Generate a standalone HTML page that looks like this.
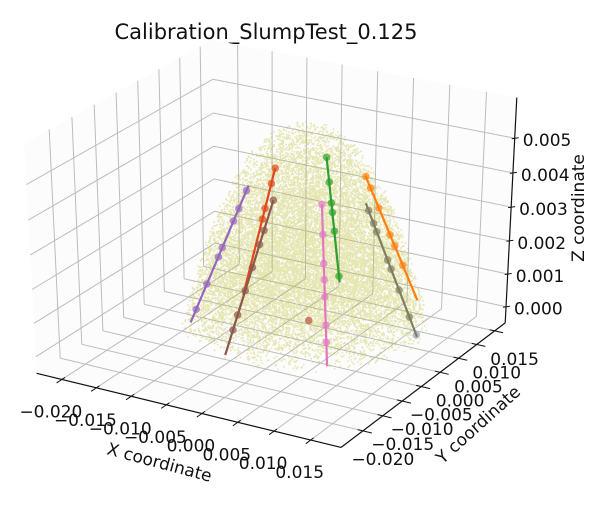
<!DOCTYPE html>
<html><head><meta charset="utf-8"><style>
html,body{margin:0;padding:0;background:#fff;}
svg{display:block;font-family:"DejaVu Sans","Liberation Sans",sans-serif;}
</style></head><body>
<svg id="chart" width="614" height="507" viewBox="0 0 614 507" xmlns="http://www.w3.org/2000/svg">
<rect width="614" height="507" fill="#fff"/>
<text x="266" y="39" font-size="21" text-anchor="middle" fill="#111">Calibration_SlumpTest_0.125</text>
<g id="panes"></g>
<g id="grid"></g>
<g id="axes"></g>
<g id="cloud"></g>
<g id="series"></g>
<text x="0" y="0" font-size="17" text-anchor="middle" transform="translate(158,468) rotate(15)" fill="#111">X coordinate</text>
<text x="0" y="0" font-size="17" text-anchor="middle" transform="translate(482,429) rotate(-42)" fill="#111">Y coordinate</text>
<text x="0" y="0" font-size="17" text-anchor="middle" transform="translate(584,208) rotate(-90)" fill="#111">Z coordinate</text>
</svg>
<script>
// ---- axis limits & ticks ----
const xLim = [-0.0237, 0.0191];
const yLim = [-0.0254, 0.018];
const zLim = [-0.0005, 0.00615];
const xTicks = [-0.020, -0.015, -0.010, -0.005, 0.000, 0.005, 0.010, 0.015];
const yTicks = [-0.020, -0.015, -0.010, -0.005, 0.000, 0.005, 0.010, 0.015];
const zTicks = [0.000, 0.001, 0.002, 0.003, 0.004, 0.005];
const xTickLabels = ["\u22120.020","\u22120.015","\u22120.010","\u22120.005","0.000","0.005","0.010","0.015"];
const yTickLabels = ["\u22120.020","\u22120.015","\u22120.010","\u22120.005","0.000","0.005","0.010","0.015"];
const zTickLabels = ["0.000","0.001","0.002","0.003","0.004","0.005"];

// ---- series data (x, y, z of markers) ----
const seriesNames = ["purple","red","brown","pink","green","orange","gray"];
const seriesColors = ["#9467bd","#e0481c","#8c564b","#e377c2","#2ca02c","#ff7f0e","#7f7f5f"];
const purpleX = [-0.00705,-0.00781,-0.00835,-0.00950,-0.00990,-0.01110,-0.01222];
const purpleY = [-0.00230,-0.00286,-0.00325,-0.00409,-0.00439,-0.00526,-0.00608];
const purpleZ = [0.00385,0.00334,0.00298,0.00221,0.00194,0.00114,0.00039];
const redX = [-0.00398,-0.00486,-0.00631,-0.00694];
const redY = [-0.00058,0.00002,0.00100,0.00142];
const redZ = [0.0045,0.00398,0.00312,0.00275];
const brownX = [-0.00462,-0.00447,-0.00441,-0.00429,-0.00418,-0.00407,-0.00399];
const brownY = [0.0001,-0.00249,-0.00370,-0.00568,-0.00766,-0.00973,-0.01104];
const brownZ = [0.0035,0.00282,0.0025,0.00198,0.00146,0.00091,0.00057];
const pinkX = [0.0012,0.00257,0.00390,0.00464,0.00542,0.00671,0.00749];
const pinkY = [0.00188,-0.00030,-0.00241,-0.00359,-0.00482,-0.00686,-0.00810];
const pinkZ = [0.0035,0.00285,0.00222,0.00187,0.0015,0.00089,0.00052];
const greenX = [0.00133,0.00129,0.00125,0.00124,0.00121,0.00113];
const greenY = [0.0027,0.0035,0.00419,0.0045,0.00513,0.00665];
const greenZ = [0.0048,0.00403,0.00337,0.00307,0.00247,0.0010];
const orangeX = [0.00501,0.00545,0.00622,0.00727,0.00771,0.00848];
const orangeY = [0.00598,0.00647,0.00731,0.00846,0.00895,0.00979];
const orangeZ = [0.00417,0.00382,0.00321,0.00238,0.00203,0.00142];
const grayX = [0.00608,0.00687,0.00737,0.00910,0.00966,0.01096,0.01263,0.01374];
const grayY = [0.00489,0.00477,0.00469,0.00444,0.00435,0.00416,0.00391,0.00375];
const grayZ = [0.00331,0.00298,0.00276,0.00203,0.00179,0.00124,0.00053,0.00005];
// fitted line endpoints [top, bottom]
const fitStartX = [-0.00683,-0.00398,-0.00462,0.0012,0.00133,0.00497,0.00564];
const fitStartY = [-0.00214,-0.00058,0.0001,0.00188,0.0027,0.00594,0.00495];
const fitStartZ = [0.0040,0.0045,0.0035,0.0035,0.0048,0.0042,0.0035];
const fitEndX = [-0.0128,-0.0116,-0.00387,0.00859,0.00112,0.00989,0.01386];
const fitEndY = [-0.0065,0.00458,-0.01319,-0.00985,0.00686,0.01134,0.00373];
const fitEndZ = [0,0,0,0,0.0008,0.0003,0];
const strayX = [-0.0003];
const strayY = [0.0015];
const strayZ = [0];
// particle cloud shape: base radius, height
const cloudBaseRadius = [0.0155];
const cloudHeight = [0.0058];

// ---- projection (matplotlib-like perspective) ----
const NS = "http://www.w3.org/2000/svg";
function model(x,y,z){
  const dx=(x-xLim[0])/(xLim[1]-xLim[0])-0.5, dy=(y-yLim[0])/(yLim[1]-yLim[0])-0.5, dz=(z-zLim[0])/(zLim[1]-zLim[0])-0.5;
  const u=0.866*dx+0.5*dy, v=-0.25*dx+0.433*dy+0.866*dz, d=0.433*dx-0.75*dy+0.5*dz;
  const s=10/(10-d);
  return [u*s, v*s];
}
const calib = [
  [[-0.020,yLim[0],zLim[0]],[63,380]],[[0.015,yLim[0],zLim[0]],[312,440]],
  [[xLim[1],-0.020,zLim[0]],[362,432]],[[xLim[1],0.015,zLim[0]],[492,334]],
  [[xLim[1],yLim[1],0],[509,302]],[[xLim[1],yLim[1],0.005],[514,137]],
  [[xLim[0],yLim[1],0.005],[213,79]],[[xLim[0],-0.020,zLim[0]],[60,357]],[[xLim[0],-0.020,zLim[1]],[48,132]]
];
function regress(a,b){let n=a.length,ma=0,mb=0;for(let i=0;i<n;i++){ma+=a[i];mb+=b[i];}ma/=n;mb/=n;let c=0,v=0;for(let i=0;i<n;i++){c+=(a[i]-ma)*(b[i]-mb);v+=(a[i]-ma)**2;}const k=c/v;return [k,mb-k*ma];}
const mxs=calib.map(c=>model(...c[0])[0]), mys=calib.map(c=>model(...c[0])[1]);
const FX=regress(mxs,calib.map(c=>c[1][0])), FY=regress(mys,calib.map(c=>c[1][1]));
function proj(x,y,z){const m=model(x,y,z);return [FX[1]+FX[0]*m[0], FY[1]+FY[0]*m[1]];}

function el(tag,attrs,parent){const e=document.createElementNS(NS,tag);for(const k in attrs)e.setAttribute(k,attrs[k]);parent.appendChild(e);return e;}
function line3(p,q,parent,stroke,w){const a=proj(...p),b=proj(...q);return el("line",{x1:a[0].toFixed(1),y1:a[1].toFixed(1),x2:b[0].toFixed(1),y2:b[1].toFixed(1),stroke:stroke,"stroke-width":w},parent);}
function poly3(pts,parent,fill){return el("polygon",{points:pts.map(p=>proj(...p).map(v=>v.toFixed(1)).join(",")).join(" "),fill:fill,stroke:"none"},parent);}

const [x0,x1]=xLim,[y0,y1]=yLim,[z0,z1]=zLim;
const panes=document.getElementById("panes");
let pe;
pe=poly3([[x0,y0,z0],[x0,y1,z0],[x0,y1,z1],[x0,y0,z1]],panes,"#fcfcfc");


pe=poly3([[x0,y1,z0],[x1,y1,z0],[x1,y1,z1],[x0,y1,z1]],panes,"#fcfcfc");


pe=poly3([[x0,y0,z0],[x1,y0,z0],[x1,y1,z0],[x0,y1,z0]],panes,"#fcfcfc");



const grid=document.getElementById("grid");
const gc="#bcbcbc", gw=1;
let g;
for(const t of xTicks){
  g=line3([t,y0,z0],[t,y1,z0],grid,gc,gw);
  
  
  g=line3([t,y1,z0],[t,y1,z1],grid,gc,gw);
  
  
}
for(const t of yTicks){
  g=line3([x0,t,z0],[x1,t,z0],grid,gc,gw);
  
  
  g=line3([x0,t,z0],[x0,t,z1],grid,gc,gw);
  
  
}
for(const t of zTicks){
  g=line3([x0,y0,t],[x0,y1,t],grid,gc,gw);
  
  
  g=line3([x0,y1,t],[x1,y1,t],grid,gc,gw);
  
  
}

const axes=document.getElementById("axes");
let a;
a=line3([x0,y0,z0],[x1,y0,z0],axes,"#111",1.2);


a=line3([x1,y0,z0],[x1,y1,z0],axes,"#111",1.2);


a=line3([x1,y1,z0],[x1,y1,z1],axes,"#111",1.2);



xTicks.forEach((t,i)=>{
  const tk=line3([t,y0+0.0007,z0],[t,y0-0.0012,z0],axes,"#111",1);
  
  
  const p=proj(t,y0,z0);
  const tx=el("text",{x:(p[0]-11).toFixed(1),y:(p[1]+38).toFixed(1),"font-size":17,"text-anchor":"middle",fill:"#111"},axes);
  tx.textContent=xTickLabels[i];
  
  
});
yTicks.forEach((t,i)=>{
  const tk=line3([x1-0.0007,t,z0],[x1+0.0012,t,z0],axes,"#111",1);
  
  
  const p=proj(x1,t,z0);
  const tx=el("text",{x:(p[0]+20).toFixed(1),y:(p[1]+34).toFixed(1),"font-size":17,"text-anchor":"middle",fill:"#111"},axes);
  tx.textContent=yTickLabels[i];
  
  
});
zTicks.forEach((t,i)=>{
  const p=proj(x1,y1,t);
  const tk=el("line",{x1:(p[0]-3).toFixed(1),y1:(p[1]+0.5).toFixed(1),x2:(p[0]+4).toFixed(1),y2:(p[1]-0.5).toFixed(1),stroke:"#111","stroke-width":1},axes);
  
  
  const tx=el("text",{x:(p[0]+8).toFixed(1),y:(p[1]+8).toFixed(1),"font-size":17,"text-anchor":"start",fill:"#111"},axes);
  tx.textContent=zTickLabels[i];
  
  
});

// ---- particle cloud (seeded texture inside slump shape) ----
const cloud=document.getElementById("cloud");
let seed=12345;
function rnd(){seed|=0;seed=seed+0x6D2B79F5|0;let t=Math.imul(seed^seed>>>15,1|seed);t=t+Math.imul(t^t>>>7,61|t)^t;return ((t^t>>>14)>>>0)/4294967296;}
let dpath="";
let count=0, guard=0;
while(count<16000 && guard<300000){
  guard++;
  const z=cloudHeight[0]*rnd();
  const f=Math.pow(Math.max(0,1-z/cloudHeight[0]),0.42);
  if(rnd()>f*f) continue;
  const R=cloudBaseRadius[0]*f;
  const r=R*Math.sqrt(rnd()), th=rnd()*Math.PI*2;
  const p=proj(r*Math.cos(th)-0.0003,r*Math.sin(th)+0.0005,z);
  dpath+="M"+p[0].toFixed(1)+" "+p[1].toFixed(1)+"h1.6v1.6h-1.6z";
  count++;
}
const cp=el("path",{d:dpath,fill:"#bcbd22","fill-opacity":0.34},cloud);



// ---- series ----
const seriesG=document.getElementById("series");
const seriesData=[[purpleX,purpleY,purpleZ],[redX,redY,redZ],[brownX,brownY,brownZ],[pinkX,pinkY,pinkZ],[greenX,greenY,greenZ],[orangeX,orangeY,orangeZ],[grayX,grayY,grayZ]];
seriesData.forEach((s,k)=>{
  const grp=el("g",{},seriesG);
  
  
  for(let i=0;i<s[0].length;i++){
    const p=proj(s[0][i],s[1][i],s[2][i]);
    let col=seriesColors[k];
    if(seriesNames[k]==="gray" && i===s[0].length-1) col="#8fa9bd";
    const c=el("circle",{cx:p[0].toFixed(1),cy:p[1].toFixed(1),r:3.8,fill:col,"fill-opacity":0.7},grp);
    
    
  }
  const ln=line3([fitStartX[k],fitStartY[k],fitStartZ[k]],[fitEndX[k],fitEndY[k],fitEndZ[k]],grp,seriesColors[k],2.2);
  
  
});
for(let i=0;i<strayX.length;i++){
  const p=proj(strayX[i],strayY[i],strayZ[i]);
  const c=el("circle",{cx:p[0].toFixed(1),cy:p[1].toFixed(1),r:3.8,fill:"#c0704f","fill-opacity":0.85},seriesG);
  
  
}
</script>
</body></html>
